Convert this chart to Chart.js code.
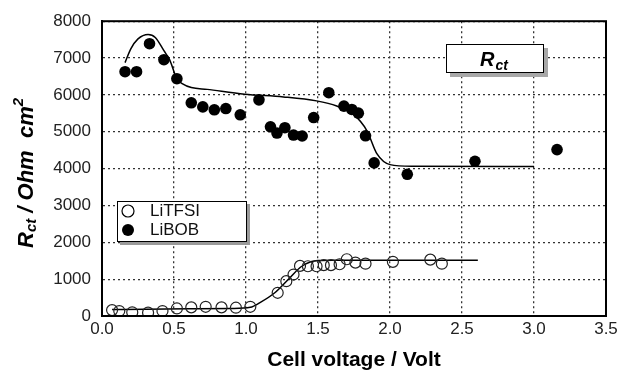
<!DOCTYPE html>
<html>
<head>
<meta charset="utf-8">
<script src="https://cdn.jsdelivr.net/npm/chart.js@4.4.0/dist/chart.umd.min.js"></script>
<style>
  html, body { margin: 0; padding: 0; background: #fff; }
</style>
</head>
<body>
<canvas id="chart" width="624" height="372"></canvas>
<script>
// measured points, cell voltage (V) vs Rct (Ohm cm2)
const litfsiV = [0.07, 0.12, 0.21, 0.32, 0.42, 0.52, 0.62, 0.72, 0.83, 0.93, 1.03, 1.22, 1.28, 1.33, 1.375, 1.43, 1.49, 1.54, 1.59, 1.65, 1.70, 1.76, 1.83, 2.02, 2.28, 2.36];
const litfsiR = [160, 135, 100, 90, 135, 205, 235, 250, 235, 225, 250, 630, 945, 1125, 1360, 1350, 1350, 1380, 1380, 1405, 1540, 1450, 1420, 1470, 1530, 1420];

const libobV = [0.16, 0.24, 0.33, 0.43, 0.52, 0.62, 0.70, 0.78, 0.86, 0.96, 1.09, 1.17, 1.215, 1.27, 1.33, 1.39, 1.47, 1.575, 1.68, 1.735, 1.78, 1.83, 1.89, 2.12, 2.59, 3.16];
const libobR = [6630, 6630, 7390, 6955, 6440, 5785, 5675, 5595, 5630, 5460, 5865, 5135, 4965, 5110, 4910, 4885, 5385, 6060, 5695, 5605, 5505, 4890, 4155, 3845, 4200, 4515];

// fitted curves
const litfsiFitV = [0.07, 0.3, 0.6, 0.9, 1.03, 1.1, 1.2, 1.3, 1.38, 1.45, 1.5, 1.6, 2.0, 2.61];
const litfsiFitR = [175, 185, 195, 205, 235, 370, 630, 1020, 1330, 1470, 1505, 1515, 1515, 1515];

const libobFitV = [0.16, 0.2, 0.25, 0.32, 0.37, 0.43, 0.47, 0.52, 0.56, 0.62, 0.73, 0.99, 1.26, 1.49, 1.63, 1.745, 1.84, 1.91, 2.0, 2.16, 3.0];
const libobFitR = [6875, 7250, 7520, 7640, 7560, 7200, 6950, 6440, 6300, 6200, 6150, 6020, 5946, 5838, 5700, 5478, 5027, 4397, 4108, 4063, 4054];

const seriesNames = ['LiTFSI', 'LiBOB'];
const xTitle = 'Cell voltage / Volt';

const FONT = "'Liberation Sans', Arial, Helvetica, sans-serif";
Chart.defaults.font.family = FONT;

const toXY = (xs, ys) => xs.map((x, i) => ({ x: x, y: ys[i] }));

// frame, legend, Rct label box and y axis title
const extras = {
    id: 'extras',
    afterDraw(chart) {
        const ctx = chart.ctx;
        const a = chart.chartArea;
        ctx.save();

        // plot frame
        ctx.strokeStyle = '#000';
        ctx.lineWidth = 2;
        ctx.strokeRect(a.left, a.top, a.right - a.left, a.bottom - a.top);

        // legend box
        ctx.fillStyle = '#9a9a9a';
        ctx.fillRect(120, 204, 130, 41);
        ctx.fillStyle = '#fff';
        ctx.fillRect(117, 201, 130, 41);
        ctx.strokeStyle = '#000';
        ctx.lineWidth = 1;
        ctx.strokeRect(117.5, 201.5, 129, 40);
        ctx.lineWidth = 1.2;
        ctx.beginPath();
        ctx.arc(128, 211, 6, 0, Math.PI * 2);
        ctx.stroke();
        ctx.fillStyle = '#000';
        ctx.beginPath();
        ctx.arc(128, 230, 6, 0, Math.PI * 2);
        ctx.fill();
        ctx.font = '17px ' + FONT;
        ctx.textBaseline = 'middle';
        ctx.fillStyle = '#111';
        ctx.fillText(seriesNames[0], 150, 211);
        ctx.fillText(seriesNames[1], 150, 230);

        // Rct label box
        ctx.fillStyle = '#a8a8a8';
        ctx.fillRect(450, 48, 98, 29);
        ctx.fillStyle = '#fff';
        ctx.fillRect(446, 44, 98, 29);
        ctx.strokeStyle = '#000';
        ctx.lineWidth = 1;
        ctx.strokeRect(446.5, 44.5, 97, 28);
        ctx.fillStyle = '#000';
        ctx.textBaseline = 'alphabetic';
        ctx.font = 'italic bold 20px ' + FONT;
        ctx.fillText('R', 480, 66);
        const rw = ctx.measureText('R').width;
        ctx.font = 'italic bold 14px ' + FONT;
        ctx.fillText('ct', 480 + rw + 1, 70);

        // y axis title, rotated
        ctx.translate(33, 248);
        ctx.rotate(-Math.PI / 2);
        let x = 0;
        const part = (txt, size, dy) => {
            ctx.font = 'italic bold ' + size + 'px ' + FONT;
            ctx.fillText(txt, x, dy);
            x += ctx.measureText(txt).width;
        };
        part('R', 22, 0);
        part('ct', 15, 3);
        part(' / Ohm  cm', 22, 0);
        part('2', 15, -10);

        ctx.restore();
    }
};

new Chart(document.getElementById('chart'), {
    type: 'scatter',
    data: {
        datasets: [
            {
                label: 'LiTFSI fit',
                data: toXY(litfsiFitV, litfsiFitR),
                showLine: true,
                borderColor: '#000',
                borderWidth: 1.5,
                pointRadius: 0,
                cubicInterpolationMode: 'monotone',
                order: 2
            },
            {
                label: 'LiBOB fit',
                data: toXY(libobFitV, libobFitR),
                showLine: true,
                borderColor: '#000',
                borderWidth: 1.5,
                pointRadius: 0,
                cubicInterpolationMode: 'monotone',
                order: 2
            },
            {
                label: seriesNames[0],
                data: toXY(litfsiV, litfsiR),
                pointRadius: 5.5,
                pointBorderWidth: 1.2,
                borderColor: '#222',
                backgroundColor: 'rgba(255,255,255,0)',
                order: 1
            },
            {
                label: seriesNames[1],
                data: toXY(libobV, libobR),
                pointRadius: 5.8,
                pointBorderWidth: 0,
                borderColor: '#000',
                backgroundColor: '#000',
                order: 1
            }
        ]
    },
    options: {
        responsive: false,
        animation: false,
        layout: { padding: { left: 0, right: 18, top: 20, bottom: 0 } },
        plugins: {
            legend: { display: false },
            tooltip: { enabled: false }
        },
        scales: {
            x: {
                type: 'linear',
                min: 0,
                max: 3.5,
                ticks: {
                    stepSize: 0.5,
                    padding: 3,
                    color: '#222',
                    font: { size: 17 },
                    maxRotation: 0,
                    callback: (v) => v.toFixed(1)
                },
                grid: { color: '#333', lineWidth: 1.3, drawTicks: false },
                border: { display: true, color: '#000', width: 2, dash: [2, 3] },
                title: {
                    display: true,
                    text: xTitle,
                    color: '#000',
                    font: { size: 21, weight: 'bold', lineHeight: 1 },
                    padding: { top: 0, bottom: 1 }
                },
                afterFit: (scale) => { scale.height = 56; }
            },
            y: {
                min: 0,
                max: 8000,
                ticks: {
                    stepSize: 1000,
                    padding: 11,
                    color: '#222',
                    font: { size: 17 },
                    callback: (v) => String(v)
                },
                grid: { color: '#333', lineWidth: 1.3, drawTicks: false },
                border: { display: true, color: '#000', width: 2, dash: [2, 3] },
                afterFit: (scale) => { scale.width = 102; }
            }
        }
    },
    plugins: [extras]
});
</script>
</body>
</html>
